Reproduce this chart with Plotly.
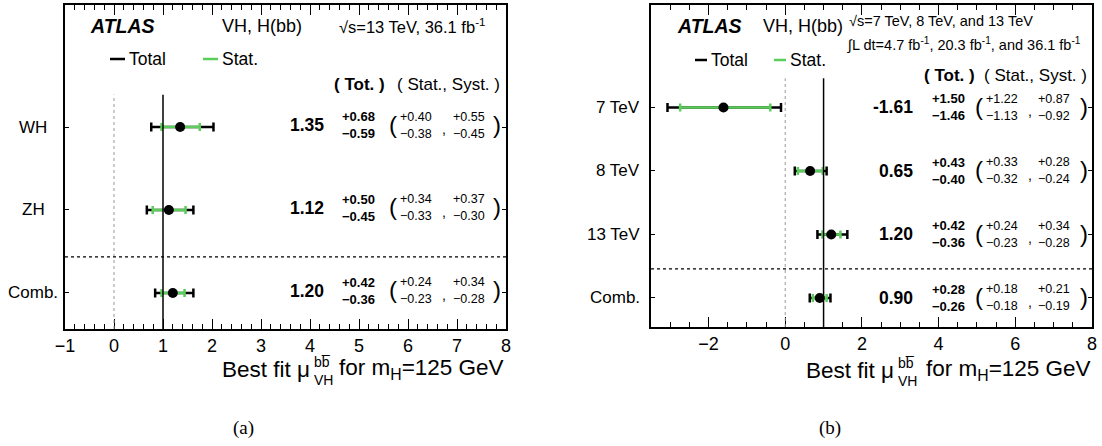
import plotly.graph_objects as go

W, H = 1102, 446

# ---------------- data ----------------
# (a) 13 TeV: WH, ZH and combination
a_labels = ["WH", "ZH", "Comb."]
a_rows = [2, 1, 0]
a_mu = [1.35, 1.12, 1.20]
a_tot_up = [0.68, 0.50, 0.42]
a_tot_dn = [0.59, 0.45, 0.36]
a_stat_up = [0.40, 0.34, 0.24]
a_stat_dn = [0.38, 0.33, 0.23]
a_syst_up = [0.55, 0.37, 0.34]
a_syst_dn = [0.45, 0.30, 0.28]

# (b) Run-1 and Run-2 combination
b_labels = ["7 TeV", "8 TeV", "13 TeV", "Comb."]
b_rows = [3, 2, 1, 0]
b_mu = [-1.61, 0.65, 1.20, 0.90]
b_tot_up = [1.50, 0.43, 0.42, 0.28]
b_tot_dn = [1.46, 0.40, 0.36, 0.26]
b_stat_up = [1.22, 0.33, 0.24, 0.18]
b_stat_dn = [1.13, 0.32, 0.23, 0.18]
b_syst_up = [0.87, 0.28, 0.34, 0.21]
b_syst_dn = [0.92, 0.24, 0.28, 0.19]

FONT = "Liberation Sans, Arial, Helvetica, sans-serif"
SERIF = "Liberation Serif, Times New Roman, serif"
GREEN = "#5acd5a"


def px(x):
    return x / W


def py(y):
    return 1 - y / H


panels = [
    dict(
        n="", labels=a_labels, rows=a_rows, mu=a_mu,
        tot=(a_tot_up, a_tot_dn), stat=(a_stat_up, a_stat_dn), syst=(a_syst_up, a_syst_dn),
        frame=(65, 506, 5, 329), xrange=[-1, 8], dtick=1, minor=0.2,
        yrange=[-0.434, 3.47], sep=0.434, vtop=2.39,
        label_x=33, label_anchor="center",
        col=dict(val=325, tot=341, lp=388, stat=399, comma=441, syst=452, rp=492),
        text_dy=-2,
        hdr_y=84, hdr_tot=386, hdr_ss=501,
        atlas=(89, 26), vh=(221, 26),
        energy=[("√s=13 TeV, 36.1 fb<sup>-1</sup>", 338, 26, 16.5)],
        leg_y=59, leg=[(110, 125, "black", "Total"), (203, 218, GREEN, "Stat.")],
        title=(311, 505, 369), tag=("(a)", 243),
    ),
    dict(
        n="2", labels=b_labels, rows=b_rows, mu=b_mu,
        tot=(b_tot_up, b_tot_dn), stat=(b_stat_up, b_stat_dn), syst=(b_syst_up, b_syst_dn),
        frame=(651, 1092, 5, 327), xrange=[-3.5, 8], dtick=2, minor=0.5,
        yrange=[-0.457, 4.614], sep=0.457, vtop=3.46,
        label_x=641, label_anchor="right",
        col=dict(val=914, tot=931, lp=974, stat=985, comma=1027, syst=1037, rp=1079),
        text_dy=0,
        hdr_y=75, hdr_tot=976, hdr_ss=1088,
        atlas=(676, 26), vh=(762, 26),
        energy=[("√s=7 TeV, 8 TeV, and 13 TeV", 848, 21, 14.5),
                ("∫L dt=4.7 fb<sup>-1</sup>, 20.3 fb<sup>-1</sup>, and 36.1 fb<sup>-1</sup>", 846, 45, 14.5)],
        leg_y=60, leg=[(695, 707, "black", "Total"), (774, 786, GREEN, "Stat.")],
        title=(895, 1092, 370), tag=("(b)", 830),
    ),
]

fig = go.Figure()
annotations = []
shapes = []
layout_axes = {}


def ann(text, x, y, size, xanchor="left", yanchor="middle", xref="paper", yref="paper",
        bold=False, italic=False, family=FONT, yshift=0):
    t = text
    if bold:
        t = "<b>" + t + "</b>"
    if italic:
        t = "<i>" + t + "</i>"
    annotations.append(dict(
        text=t, x=x, y=y, xref=xref, yref=yref, xanchor=xanchor, yanchor=yanchor,
        showarrow=False, font=dict(family=family, size=size, color="black"),
        yshift=yshift, borderpad=0,
    ))


for p in panels:
    xa, ya = "x" + p["n"], "y" + p["n"]
    x0, x1, ytop, ybot = p["frame"]

    layout_axes["xaxis" + p["n"]] = dict(
        domain=[px(x0), px(x1)], range=p["xrange"], anchor=ya, automargin=False,
        showline=True, linecolor="black", linewidth=1.5, mirror="allticks",
        ticks="inside", ticklen=10, tickwidth=1.2, tickcolor="black",
        tick0=0, dtick=p["dtick"],
        minor=dict(ticks="inside", ticklen=5, tickwidth=1, tickcolor="black",
                   tick0=0, dtick=p["minor"], showgrid=False),
        showgrid=False, zeroline=False,
        tickfont=dict(family=FONT, size=18, color="black"),
    )
    layout_axes["yaxis" + p["n"]] = dict(
        domain=[py(ybot), py(ytop)], range=p["yrange"], anchor=xa, automargin=False,
        showline=True, linecolor="black", linewidth=1.5, mirror="allticks",
        ticks="inside", ticklen=4, tickwidth=1, tickcolor="black",
        tickvals=p["rows"], showticklabels=False,
        showgrid=False, zeroline=False,
    )

    # reference lines at mu = 0 (dotted) and mu = 1 (solid)
    shapes.append(dict(type="line", xref=xa, yref=ya, x0=0, x1=0,
                       y0=p["yrange"][0], y1=p["vtop"],
                       line=dict(color="#999999", width=1, dash="dot")))
    shapes.append(dict(type="line", xref=xa, yref=ya, x0=1, x1=1,
                       y0=p["yrange"][0], y1=p["vtop"],
                       line=dict(color="black", width=1.5)))
    # separator above the combined result
    shapes.append(dict(type="line", xref=xa + " domain", yref=ya, x0=0, x1=1,
                       y0=p["sep"], y1=p["sep"],
                       line=dict(color="black", width=1.2, dash="3px,3px")))

    # total uncertainty
    fig.add_trace(go.Scatter(
        x=p["mu"], y=p["rows"], xaxis=xa, yaxis=ya, mode="markers",
        marker=dict(size=1, color="rgba(0,0,0,0)"),
        error_x=dict(type="data", symmetric=False, array=p["tot"][0], arrayminus=p["tot"][1],
                     color="black", thickness=2.5, width=4.5),
        showlegend=False, hoverinfo="skip",
    ))
    # statistical uncertainty
    fig.add_trace(go.Scatter(
        x=p["mu"], y=p["rows"], xaxis=xa, yaxis=ya, mode="markers",
        marker=dict(size=1, color="rgba(0,0,0,0)"),
        error_x=dict(type="data", symmetric=False, array=p["stat"][0], arrayminus=p["stat"][1],
                     color=GREEN, thickness=2.5, width=4),
        showlegend=False, hoverinfo="skip",
    ))
    # central values
    fig.add_trace(go.Scatter(
        x=p["mu"], y=p["rows"], xaxis=xa, yaxis=ya, mode="markers",
        marker=dict(size=10, color="black", symbol="circle"),
        showlegend=False, hoverinfo="skip",
    ))

    # row labels
    for lab, r in zip(p["labels"], p["rows"]):
        ann(lab, px(p["label_x"]), r, 17, xanchor=p["label_anchor"], yref=ya)

    # numeric summary per row
    c = p["col"]
    dy = p["text_dy"]
    for i, r in enumerate(p["rows"]):
        mu = p["mu"][i]
        tu, td = p["tot"][0][i], p["tot"][1][i]
        su, sd = p["stat"][0][i], p["stat"][1][i]
        yu, yd = p["syst"][0][i], p["syst"][1][i]
        ann(f"{mu:.2f}", px(c["val"]), r, 17.5, xanchor="right", yref=ya, bold=True, yshift=-dy)
        ann(f"+{tu:.2f}", px(c["tot"]), r, 13, yref=ya, bold=True, yshift=-dy + 8.5)
        ann(f"\u2212{td:.2f}", px(c["tot"]), r, 13, yref=ya, bold=True, yshift=-dy - 8.5)
        ann("(", px(c["lp"]), r, 24, yref=ya, yshift=-dy + 1)
        ann(f"+{su:.2f}", px(c["stat"]), r, 12.5, yref=ya, yshift=-dy + 8.5)
        ann(f"\u2212{sd:.2f}", px(c["stat"]), r, 12.5, yref=ya, yshift=-dy - 8.5)
        ann(",", px(c["comma"]), r, 14, yref=ya, yshift=-dy - 4)
        ann(f"+{yu:.2f}", px(c["syst"]), r, 12.5, yref=ya, yshift=-dy + 8.5)
        ann(f"\u2212{yd:.2f}", px(c["syst"]), r, 12.5, yref=ya, yshift=-dy - 8.5)
        ann(")", px(c["rp"]), r, 24, yref=ya, yshift=-dy + 1)

    # column headers
    ann("( Tot. )", px(p["hdr_tot"]), py(p["hdr_y"]), 17, xanchor="right", bold=True)
    ann("( Stat., Syst. )", px(p["hdr_ss"]), py(p["hdr_y"]), 17, xanchor="right")

    # experiment label and process
    ann("ATLAS", px(p["atlas"][0]), py(p["atlas"][1]), 19.5, bold=True, italic=True)
    ann("VH, H(bb)", px(p["vh"][0]), py(p["vh"][1]), 18)
    for txt, ex, ey, es in p["energy"]:
        ann(txt, px(ex), py(ey), es)

    # legend entries
    for lx0, lx1, col, txt in p["leg"]:
        shapes.append(dict(type="line", xref="paper", yref="paper",
                           x0=px(lx0), x1=px(lx1), y0=py(p["leg_y"]), y1=py(p["leg_y"]),
                           line=dict(color=col, width=2.5)))
        ann(txt, px(lx1 + 3), py(p["leg_y"]), 17.5)

    # x-axis title: Best fit mu_VH^bb for m_H = 125 GeV
    mu_end, t_end, t_y = p["title"]
    ann("Best fit \u03bc", px(mu_end), py(t_y), 22.5, xanchor="right")
    ann("bb\u0305", px(mu_end + 2), py(t_y - 7), 14)
    ann("VH", px(mu_end + 2), py(t_y + 11), 14)
    ann("for m<sub>H</sub>=125 GeV", px(t_end), py(t_y), 22.5, xanchor="right")

    # sub-figure tag
    ann(p["tag"][0], px(p["tag"][1]), py(428), 19, xanchor="center", family=SERIF)

fig.update_layout(
    width=W, height=H,
    margin=dict(l=0, r=0, t=0, b=0),
    paper_bgcolor="white", plot_bgcolor="white",
    showlegend=False,
    annotations=annotations,
    shapes=shapes,
    **layout_axes,
)

fig.write_html("out.html")
